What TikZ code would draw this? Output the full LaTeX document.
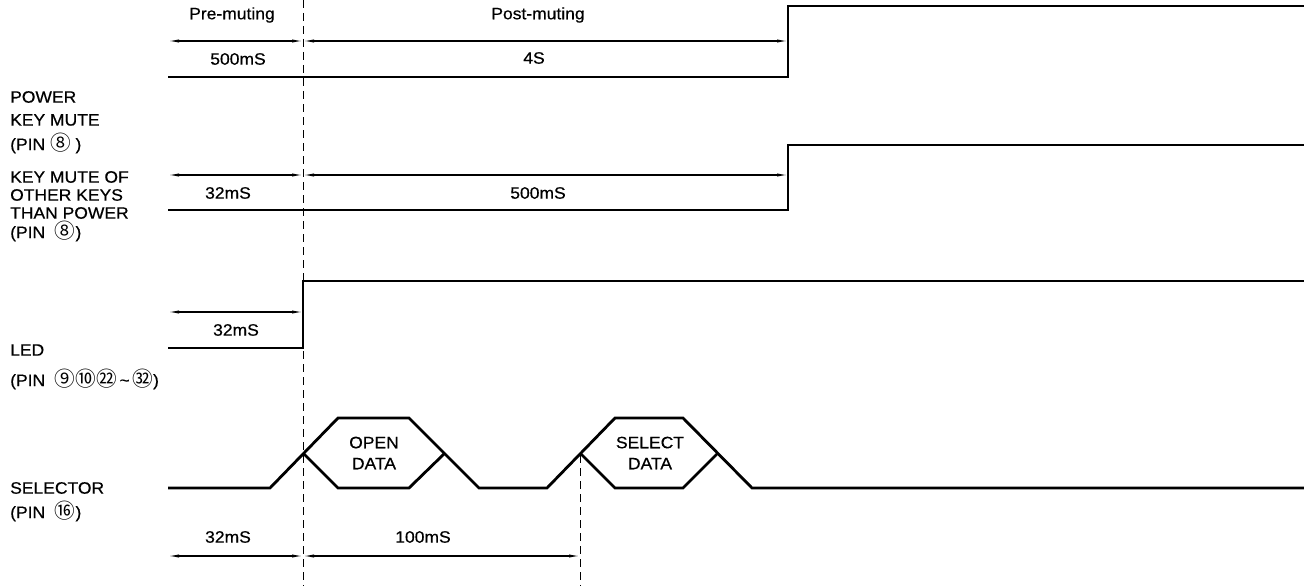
\documentclass[tikz,border=0pt]{standalone}
\usepackage{fontspec}
\setmainfont{Liberation Sans}[FakeBold=0.5, FakeStretch=1.06]
\newfontfamily\circfont{Noto Sans CJK JP}[Scale=1.25]
\usetikzlibrary{arrows.meta}
\newcommand{\cn}[1]{{\circfont #1}}
\tikzset{
  sig/.style={line width=2.8pt, line join=miter, line cap=butt},
  dim/.style={line width=1.1pt, {Latex[length=11pt,width=3.2pt]}-{Latex[length=11pt,width=3.2pt]}},
  guide/.style={line width=0.9pt, dash pattern=on 8pt off 5pt},
  lbl/.style={font=\fontsize{16.5}{19}\selectfont, inner sep=0pt, anchor=west},
  txt/.style={font=\fontsize{16.5}{19}\selectfont, inner sep=0pt},
}
\begin{document}
\begin{tikzpicture}[x=1pt,y=-1pt]
\useasboundingbox (0,0) rectangle (1304,586);
% guides
\coordinate (g1t) at (303,0);
\coordinate (g1b) at (303,586);
\coordinate (g2t) at (580,455);
\coordinate (g2b) at (580,586);
\draw[guide] (g1t) -- (g1b);
\draw[guide] (g2t) -- (g2b);

% Row 1: POWER KEY MUTE
\node[txt] (pre) at (232,15) {Pre-muting};
\node[txt] (post) at (538,15) {Post-muting};
\coordinate (a1l) at (168,41);
\coordinate (a1m) at (303,41);
\coordinate (a1r) at (788,41);
\draw[dim] (a1l) -- (a1m);
\draw[dim] (a1m) -- (a1r);
\node[txt] (t500a) at (238,59) {500mS};
\node[txt] (t4s) at (534,58) {4S};
\draw[sig] (168,77) -- (788,77) -- (788,6) -- (1304,6);
\node[lbl] (l1a) at (10,97) {POWER};
\node[lbl] (l1b) at (10,120) {KEY MUTE};
\node[lbl] (l1c) at (10,143) {(PIN \cn{⑧} )};

% Row 2: KEY MUTE OF OTHER KEYS
\coordinate (a2l) at (168,175);
\coordinate (a2m) at (303,175);
\coordinate (a2r) at (788,175);
\draw[dim] (a2l) -- (a2m);
\draw[dim] (a2m) -- (a2r);
\node[txt] (t32a) at (228,193) {32mS};
\node[txt] (t500b) at (538,193) {500mS};
\draw[sig] (168,210) -- (788,210) -- (788,145) -- (1304,145);
\node[lbl] (l2a) at (10,177) {KEY MUTE OF};
\node[lbl] (l2b) at (10,195) {OTHER KEYS};
\node[lbl] (l2c) at (10,213) {THAN POWER};
\node[lbl] (l2d) at (10,231) {(PIN \ \cn{⑧})};

% Row 3: LED
\coordinate (a3l) at (168,312);
\coordinate (a3r) at (303,312);
\draw[dim] (a3l) -- (a3r);
\node[txt] (t32b) at (236,330) {32mS};
\draw[sig] (168,348) -- (303,348) -- (303,281) -- (1304,281);
\node[lbl] (l3a) at (10,350) {LED};
\node[lbl] (l3b) at (10,379) {(PIN\ \ \cn{⑨⑩㉒}\,\textasciitilde\,\cn{㉜})};

% Row 4: SELECTOR
\draw[sig] (168,488) -- (270,488) -- (338,418) -- (409,418) -- (479,488)
  -- (547,488) -- (615,418) -- (683,418) -- (752,488) -- (1304,488);
\draw[sig] (303,453) -- (338,488) -- (409,488) -- (445,453);
\draw[sig] (580,453) -- (615,488) -- (683,488) -- (718,453);
\node[txt, align=center] (open) at (374,453) {OPEN\\[2pt]DATA};
\node[txt, align=center] (select) at (650,453) {SELECT\\[2pt]DATA};
\node[lbl] (l4a) at (10,488) {SELECTOR};
\node[lbl] (l4b) at (10,511) {(PIN \ \cn{⑯})};

% bottom dimensions
\node[txt] (t32c) at (228,537) {32mS};
\node[txt] (t100) at (423,537) {100mS};
\coordinate (a4l) at (168,556);
\coordinate (a4m) at (303,556);
\coordinate (a4r) at (580,556);
\draw[dim] (a4l) -- (a4m);
\draw[dim] (a4m) -- (a4r);
\end{tikzpicture}
\end{document}
